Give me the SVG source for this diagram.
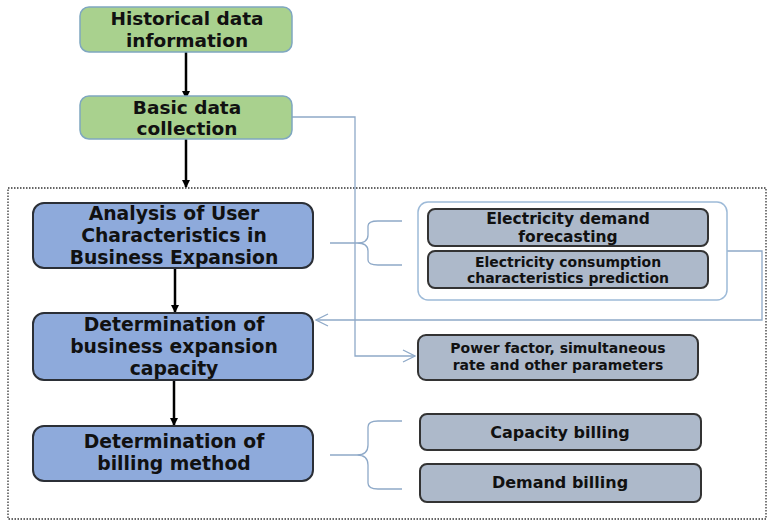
<svg xmlns="http://www.w3.org/2000/svg" width="768" height="522" viewBox="0 0 768 522">
<defs>
<style>
.t{font-family:"DejaVu Sans","Noto Sans",sans-serif;font-weight:bold;fill:#111;text-anchor:middle}
.green{fill:#a9d18e;stroke:#7fa7c0;stroke-width:1.5}
.blue{fill:#8eaadb;stroke:#2b2f36;stroke-width:2}
.gray{fill:#adb9ca;stroke:#333;stroke-width:2}
.cont{fill:#fff;stroke:#9dbad8;stroke-width:1.5}
.blk{stroke:#000;stroke-width:2.5;fill:none}
.ln{stroke:#8ea9c8;stroke-width:1.3;fill:none}
</style>
<marker id="ah" markerWidth="8" markerHeight="8" refX="7" refY="4" orient="auto" markerUnits="userSpaceOnUse"><path d="M0,0 L8,4 L0,8 Z" fill="#000"/></marker>
<marker id="oa" markerWidth="14" markerHeight="14" refX="13" refY="7" orient="auto" markerUnits="userSpaceOnUse"><path d="M1,1 L13,7 L1,13" fill="none" stroke="#8ea9c8" stroke-width="1.3"/></marker>
</defs>
<rect x="8" y="188" width="758" height="331" fill="none" stroke="#333" stroke-width="1.3" stroke-dasharray="1.5,1.5"/>
<g id="connectors">
<line class="blk" x1="186" y1="52" x2="186" y2="98" marker-end="url(#ah)"/>
<line class="blk" x1="186" y1="139" x2="186" y2="187" marker-end="url(#ah)"/>
<line class="blk" x1="175" y1="268" x2="175" y2="312" marker-end="url(#ah)"/>
<line class="blk" x1="174" y1="380" x2="174" y2="425" marker-end="url(#ah)"/>
<path class="ln" d="M292,117 H355 V356 H415" marker-end="url(#oa)"/>
<path class="ln" d="M727,251 H762 V320 H316" marker-end="url(#oa)"/>
<path class="ln" d="M330,243 H357 Q368,243 368,235 V226 Q368,221 378,221 H402 M357,243 Q368,243 368,251 V260 Q368,265 378,265 H402"/>
<path class="ln" d="M330,455 H357 Q368,455 368,445 V427 Q368,421 378,421 H402 M357,455 Q368,455 368,465 V483 Q368,489 378,489 H402"/>
</g>
<g id="historical"><rect class="green" x="80" y="7" width="212" height="45" rx="9"/><text class="t" x="187" y="25" font-size="18.5">Historical data</text><text class="t" x="187" y="46.5" font-size="18.5">information</text></g>
<g id="basic"><rect class="green" x="80" y="96" width="212" height="43" rx="9"/><text class="t" x="187" y="113.5" font-size="18.5">Basic data</text><text class="t" x="187" y="135" font-size="18.5">collection</text></g>
<g id="analysis"><rect class="blue" x="33" y="203" width="280" height="65" rx="11"/><text class="t" x="174" y="220" font-size="18.8">Analysis of User</text><text class="t" x="174" y="242" font-size="18.8">Characteristics in</text><text class="t" x="174" y="264" font-size="18.8">Business Expansion</text></g>
<g id="capacity"><rect class="blue" x="33" y="313" width="280" height="67" rx="11"/><text class="t" x="174" y="331" font-size="18.8">Determination of</text><text class="t" x="174" y="353" font-size="18.8">business expansion</text><text class="t" x="174" y="375" font-size="18.8">capacity</text></g>
<g id="billing"><rect class="blue" x="33" y="426" width="280" height="55" rx="11"/><text class="t" x="174" y="448" font-size="18.8">Determination of</text><text class="t" x="174" y="470" font-size="18.8">billing method</text></g>
<g id="container"><rect class="cont" x="418" y="202" width="309" height="98" rx="10"/></g>
<g id="demand-forecast"><rect class="gray" x="428" y="209" width="280" height="37" rx="7"/><text class="t" x="568" y="224" font-size="15.5">Electricity demand</text><text class="t" x="568" y="242" font-size="15.5">forecasting</text></g>
<g id="consumption"><rect class="gray" x="428" y="251" width="280" height="37" rx="7"/><text class="t" x="568" y="267" font-size="14">Electricity consumption</text><text class="t" x="568" y="283" font-size="14">characteristics prediction</text></g>
<g id="power-factor"><rect class="gray" x="418" y="335" width="280" height="45" rx="8"/><text class="t" x="558" y="353" font-size="14">Power factor, simultaneous</text><text class="t" x="558" y="370" font-size="14">rate and other parameters</text></g>
<g id="capacity-billing"><rect class="gray" x="420" y="414" width="281" height="36" rx="7"/><text class="t" x="560" y="438" font-size="16">Capacity billing</text></g>
<g id="demand-billing"><rect class="gray" x="420" y="464" width="281" height="38" rx="7"/><text class="t" x="560" y="488" font-size="16">Demand billing</text></g>
</svg>
